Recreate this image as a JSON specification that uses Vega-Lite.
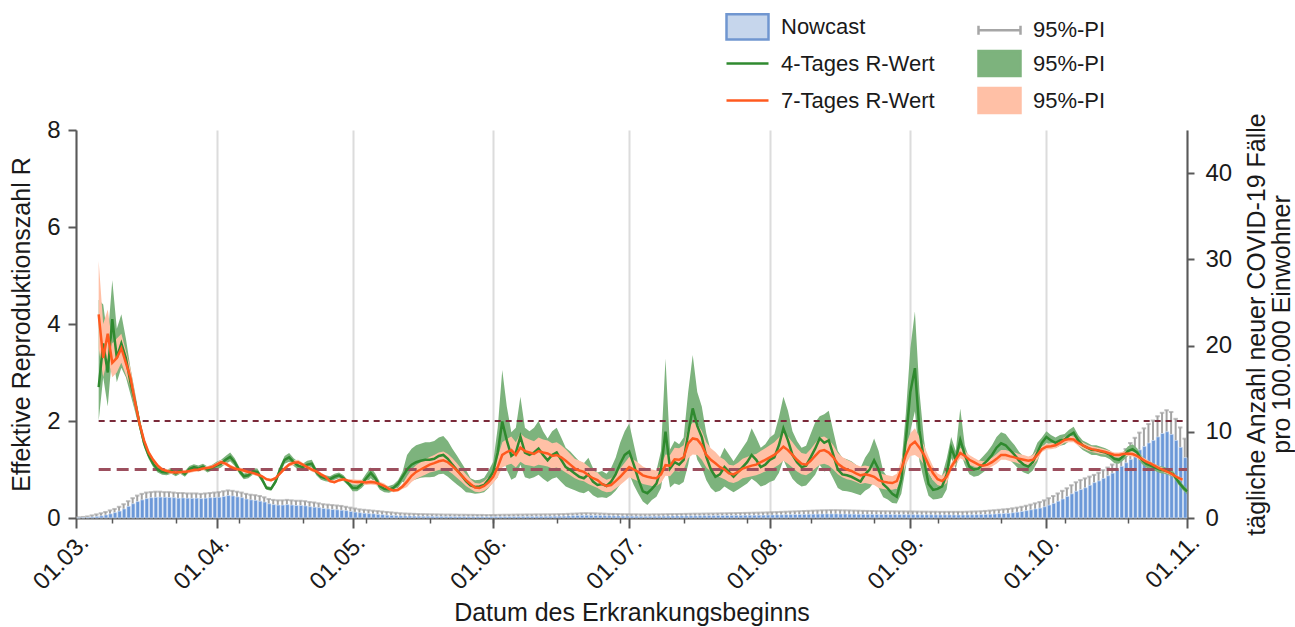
{
"$schema": "https://vega.github.io/schema/vega-lite/v6.json",
"width": 1111,
"height": 388,
"autosize": {"type": "none"},
"padding": {"left": 76, "top": 130, "right": 108, "bottom": 109},
"background": "white",
"config": {
  "font": "Liberation Sans",
  "view": {"stroke": null},
  "axis": {"labelFont": "Liberation Sans", "titleFont": "Liberation Sans", "labelColor": "#1a1a1a", "titleColor": "#1a1a1a", "titleFontWeight": "normal", "labelFontSize": 24, "titleFontSize": 25, "domainColor": "#595959", "tickColor": "#595959", "domainWidth": 2, "tickWidth": 2}
},
"data": {"values": [
{"d":"2020/03/01","n":0.02,"h":0.08},
{"d":"2020/03/02","n":0.04,"h":0.12},
{"d":"2020/03/03","n":0.07,"h":0.18},
{"d":"2020/03/04","n":0.12,"h":0.3},
{"d":"2020/03/05","n":0.18,"h":0.42},
{"d":"2020/03/06","n":0.25,"h":0.55,"g":2.7,"gl":2.0,"gh":4.5,"o":4.2,"ol":3.5,"oh":5.3},
{"d":"2020/03/07","n":0.35,"h":0.7,"g":3.6,"gl":2.9,"gh":4.4,"o":3.3,"ol":2.9,"oh":4.0},
{"d":"2020/03/08","n":0.48,"h":0.88,"g":3.0,"gl":2.3,"gh":3.7,"o":3.8,"ol":3.3,"oh":4.3},
{"d":"2020/03/09","n":0.62,"h":1.05,"g":4.1,"gl":3.4,"gh":4.9,"o":3.2,"ol":2.9,"oh":3.6},
{"d":"2020/03/10","n":0.8,"h":1.3,"g":3.3,"gl":2.8,"gh":3.9,"o":3.3,"ol":3.0,"oh":3.7},
{"d":"2020/03/11","n":1.05,"h":1.6,"g":3.6,"gl":3.1,"gh":4.2,"o":3.5,"ol":3.2,"oh":3.8},
{"d":"2020/03/12","n":1.35,"h":1.95,"g":3.3,"gl":2.9,"gh":3.7,"o":3.2,"ol":2.95,"oh":3.45},
{"d":"2020/03/13","n":1.65,"h":2.3,"g":2.8,"gl":2.55,"gh":3.1,"o":2.9,"ol":2.7,"oh":3.1},
{"d":"2020/03/14","n":1.9,"h":2.6,"g":2.4,"gl":2.2,"gh":2.6,"o":2.4,"ol":2.25,"oh":2.55},
{"d":"2020/03/15","n":2.1,"h":2.8,"g":1.95,"gl":1.83,"gh":2.07,"o":1.95,"ol":1.87,"oh":2.03},
{"d":"2020/03/16","n":2.25,"h":2.95,"g":1.55,"gl":1.46,"gh":1.64,"o":1.6,"ol":1.54,"oh":1.66},
{"d":"2020/03/17","n":2.35,"h":3.0,"g":1.3,"gl":1.22,"gh":1.38,"o":1.35,"ol":1.3,"oh":1.4},
{"d":"2020/03/18","n":2.4,"h":3.05,"g":1.12,"gl":1.05,"gh":1.19,"o":1.2,"ol":1.15,"oh":1.25},
{"d":"2020/03/19","n":2.42,"h":3.05,"g":1.0,"gl":0.94,"gh":1.06,"o":1.08,"ol":1.04,"oh":1.12},
{"d":"2020/03/20","n":2.4,"h":3.0,"g":0.95,"gl":0.89,"gh":1.01,"o":1.0,"ol":0.96,"oh":1.04},
{"d":"2020/03/21","n":2.38,"h":3.0,"g":0.94,"gl":0.88,"gh":1.0,"o":0.97,"ol":0.93,"oh":1.01},
{"d":"2020/03/22","n":2.35,"h":2.95,"g":0.97,"gl":0.91,"gh":1.03,"o":0.95,"ol":0.91,"oh":0.99},
{"d":"2020/03/23","n":2.3,"h":2.9,"g":0.92,"gl":0.86,"gh":0.98,"o":0.94,"ol":0.9,"oh":0.98},
{"d":"2020/03/24","n":2.32,"h":2.9,"g":0.97,"gl":0.91,"gh":1.03,"o":0.95,"ol":0.91,"oh":0.99},
{"d":"2020/03/25","n":2.3,"h":2.85,"g":0.91,"gl":0.85,"gh":0.97,"o":0.95,"ol":0.91,"oh":0.99},
{"d":"2020/03/26","n":2.28,"h":2.85,"g":1.01,"gl":0.95,"gh":1.07,"o":0.97,"ol":0.93,"oh":1.01},
{"d":"2020/03/27","n":2.3,"h":2.85,"g":1.05,"gl":0.99,"gh":1.11,"o":0.99,"ol":0.95,"oh":1.03},
{"d":"2020/03/28","n":2.25,"h":2.8,"g":1.02,"gl":0.96,"gh":1.08,"o":1.0,"ol":0.96,"oh":1.04},
{"d":"2020/03/29","n":2.3,"h":2.85,"g":1.06,"gl":1.0,"gh":1.12,"o":1.02,"ol":0.98,"oh":1.06},
{"d":"2020/03/30","n":2.35,"h":2.9,"g":1.0,"gl":0.94,"gh":1.06,"o":1.03,"ol":0.99,"oh":1.07},
{"d":"2020/03/31","n":2.38,"h":2.95,"g":1.04,"gl":0.98,"gh":1.1,"o":1.05,"ol":1.01,"oh":1.09},
{"d":"2020/04/01","n":2.4,"h":3.0,"g":1.08,"gl":1.0,"gh":1.16,"o":1.1,"ol":1.06,"oh":1.14},
{"d":"2020/04/02","n":2.5,"h":3.1,"g":1.12,"gl":1.04,"gh":1.2,"o":1.15,"ol":1.1,"oh":1.2},
{"d":"2020/04/03","n":2.6,"h":3.2,"g":1.2,"gl":1.12,"gh":1.28,"o":1.12,"ol":1.08,"oh":1.16},
{"d":"2020/04/04","n":2.55,"h":3.15,"g":1.26,"gl":1.17,"gh":1.35,"o":1.06,"ol":1.02,"oh":1.1},
{"d":"2020/04/05","n":2.45,"h":3.05,"g":1.15,"gl":1.07,"gh":1.23,"o":1.02,"ol":0.98,"oh":1.06},
{"d":"2020/04/06","n":2.35,"h":2.95,"g":0.98,"gl":0.91,"gh":1.05,"o":1.0,"ol":0.96,"oh":1.04},
{"d":"2020/04/07","n":2.2,"h":2.8,"g":0.86,"gl":0.8,"gh":0.92,"o":0.98,"ol":0.94,"oh":1.02},
{"d":"2020/04/08","n":2.1,"h":2.7,"g":0.88,"gl":0.82,"gh":0.94,"o":0.95,"ol":0.91,"oh":0.99},
{"d":"2020/04/09","n":2.05,"h":2.65,"g":0.96,"gl":0.89,"gh":1.03,"o":0.93,"ol":0.89,"oh":0.97},
{"d":"2020/04/10","n":1.95,"h":2.55,"g":0.95,"gl":0.88,"gh":1.02,"o":0.9,"ol":0.86,"oh":0.94},
{"d":"2020/04/11","n":1.85,"h":2.4,"g":0.8,"gl":0.74,"gh":0.86,"o":0.86,"ol":0.83,"oh":0.89},
{"d":"2020/04/12","n":1.65,"h":2.2,"g":0.62,"gl":0.58,"gh":0.66,"o":0.8,"ol":0.77,"oh":0.83},
{"d":"2020/04/13","n":1.55,"h":2.1,"g":0.6,"gl":0.56,"gh":0.64,"o":0.78,"ol":0.75,"oh":0.81},
{"d":"2020/04/14","n":1.5,"h":2.05,"g":0.75,"gl":0.7,"gh":0.8,"o":0.82,"ol":0.79,"oh":0.85},
{"d":"2020/04/15","n":1.5,"h":2.05,"g":1.0,"gl":0.93,"gh":1.07,"o":0.92,"ol":0.88,"oh":0.96},
{"d":"2020/04/16","n":1.55,"h":2.1,"g":1.2,"gl":1.12,"gh":1.28,"o":1.02,"ol":0.98,"oh":1.06},
{"d":"2020/04/17","n":1.5,"h":2.05,"g":1.25,"gl":1.16,"gh":1.34,"o":1.1,"ol":1.06,"oh":1.14},
{"d":"2020/04/18","n":1.45,"h":2.0,"g":1.15,"gl":1.07,"gh":1.23,"o":1.14,"ol":1.09,"oh":1.19},
{"d":"2020/04/19","n":1.45,"h":2.0,"g":1.08,"gl":1.0,"gh":1.16,"o":1.15,"ol":1.1,"oh":1.2},
{"d":"2020/04/20","n":1.4,"h":1.95,"g":1.05,"gl":0.98,"gh":1.12,"o":1.1,"ol":1.06,"oh":1.14},
{"d":"2020/04/21","n":1.3,"h":1.85,"g":1.1,"gl":1.02,"gh":1.18,"o":1.05,"ol":1.01,"oh":1.09},
{"d":"2020/04/22","n":1.25,"h":1.8,"g":1.12,"gl":1.04,"gh":1.2,"o":1.0,"ol":0.96,"oh":1.04},
{"d":"2020/04/23","n":1.2,"h":1.7,"g":0.95,"gl":0.88,"gh":1.02,"o":0.96,"ol":0.92,"oh":1.0},
{"d":"2020/04/24","n":1.1,"h":1.6,"g":0.85,"gl":0.79,"gh":0.91,"o":0.9,"ol":0.86,"oh":0.94},
{"d":"2020/04/25","n":1.05,"h":1.55,"g":0.82,"gl":0.76,"gh":0.88,"o":0.85,"ol":0.82,"oh":0.88},
{"d":"2020/04/26","n":1.0,"h":1.5,"g":0.8,"gl":0.74,"gh":0.86,"o":0.76,"ol":0.73,"oh":0.79},
{"d":"2020/04/27","n":0.95,"h":1.45,"g":0.85,"gl":0.79,"gh":0.91,"o":0.74,"ol":0.71,"oh":0.77},
{"d":"2020/04/28","n":0.9,"h":1.4,"g":0.88,"gl":0.82,"gh":0.94,"o":0.78,"ol":0.75,"oh":0.81},
{"d":"2020/04/29","n":0.85,"h":1.3,"g":0.82,"gl":0.76,"gh":0.88,"o":0.8,"ol":0.77,"oh":0.83},
{"d":"2020/04/30","n":0.75,"h":1.2,"g":0.72,"gl":0.67,"gh":0.77,"o":0.77,"ol":0.74,"oh":0.8},
{"d":"2020/05/01","n":0.68,"h":1.1,"g":0.62,"gl":0.55,"gh":0.69,"o":0.75,"ol":0.7,"oh":0.8},
{"d":"2020/05/02","n":0.6,"h":1.0,"g":0.62,"gl":0.55,"gh":0.69,"o":0.74,"ol":0.69,"oh":0.79},
{"d":"2020/05/03","n":0.55,"h":0.95,"g":0.7,"gl":0.62,"gh":0.78,"o":0.74,"ol":0.69,"oh":0.79},
{"d":"2020/05/04","n":0.5,"h":0.9,"g":0.82,"gl":0.72,"gh":0.92,"o":0.73,"ol":0.68,"oh":0.78},
{"d":"2020/05/05","n":0.48,"h":0.85,"g":0.93,"gl":0.82,"gh":1.04,"o":0.74,"ol":0.69,"oh":0.79},
{"d":"2020/05/06","n":0.42,"h":0.8,"g":0.82,"gl":0.72,"gh":0.92,"o":0.73,"ol":0.68,"oh":0.78},
{"d":"2020/05/07","n":0.38,"h":0.75,"g":0.66,"gl":0.58,"gh":0.74,"o":0.7,"ol":0.65,"oh":0.75},
{"d":"2020/05/08","n":0.33,"h":0.7,"g":0.6,"gl":0.53,"gh":0.67,"o":0.66,"ol":0.61,"oh":0.71},
{"d":"2020/05/09","n":0.3,"h":0.65,"g":0.59,"gl":0.52,"gh":0.66,"o":0.6,"ol":0.56,"oh":0.64},
{"d":"2020/05/10","n":0.27,"h":0.6,"g":0.62,"gl":0.55,"gh":0.69,"o":0.57,"ol":0.53,"oh":0.61},
{"d":"2020/05/11","n":0.25,"h":0.55,"g":0.7,"gl":0.62,"gh":0.78,"o":0.58,"ol":0.54,"oh":0.62},
{"d":"2020/05/12","n":0.24,"h":0.52,"g":0.85,"gl":0.75,"gh":0.95,"o":0.65,"ol":0.6,"oh":0.7},
{"d":"2020/05/13","n":0.23,"h":0.5,"g":1.0,"gl":0.7,"gh":1.3,"o":0.75,"ol":0.64,"oh":0.86},
{"d":"2020/05/14","n":0.22,"h":0.48,"g":1.1,"gl":0.77,"gh":1.43,"o":0.87,"ol":0.74,"oh":1.0},
{"d":"2020/05/15","n":0.21,"h":0.46,"g":1.15,"gl":0.8,"gh":1.5,"o":0.95,"ol":0.81,"oh":1.09},
{"d":"2020/05/16","n":0.2,"h":0.45,"g":1.18,"gl":0.83,"gh":1.53,"o":1.0,"ol":0.85,"oh":1.15},
{"d":"2020/05/17","n":0.2,"h":0.44,"g":1.2,"gl":0.84,"gh":1.56,"o":1.05,"ol":0.89,"oh":1.21},
{"d":"2020/05/18","n":0.19,"h":0.43,"g":1.2,"gl":0.84,"gh":1.56,"o":1.1,"ol":0.94,"oh":1.26},
{"d":"2020/05/19","n":0.18,"h":0.42,"g":1.22,"gl":0.85,"gh":1.59,"o":1.13,"ol":0.96,"oh":1.3},
{"d":"2020/05/20","n":0.18,"h":0.41,"g":1.28,"gl":0.9,"gh":1.66,"o":1.17,"ol":0.99,"oh":1.35},
{"d":"2020/05/21","n":0.17,"h":0.4,"g":1.3,"gl":0.91,"gh":1.69,"o":1.19,"ol":1.01,"oh":1.37},
{"d":"2020/05/22","n":0.17,"h":0.4,"g":1.22,"gl":0.85,"gh":1.59,"o":1.15,"ol":0.98,"oh":1.32},
{"d":"2020/05/23","n":0.16,"h":0.39,"g":1.1,"gl":0.77,"gh":1.43,"o":1.07,"ol":0.91,"oh":1.23},
{"d":"2020/05/24","n":0.16,"h":0.38,"g":0.99,"gl":0.69,"gh":1.29,"o":0.98,"ol":0.83,"oh":1.13},
{"d":"2020/05/25","n":0.16,"h":0.38,"g":0.88,"gl":0.62,"gh":1.14,"o":0.88,"ol":0.75,"oh":1.01},
{"d":"2020/05/26","n":0.15,"h":0.37,"g":0.76,"gl":0.53,"gh":0.99,"o":0.78,"ol":0.66,"oh":0.9},
{"d":"2020/05/27","n":0.15,"h":0.37,"g":0.67,"gl":0.52,"gh":0.82,"o":0.7,"ol":0.6,"oh":0.8},
{"d":"2020/05/28","n":0.15,"h":0.36,"g":0.64,"gl":0.5,"gh":0.78,"o":0.63,"ol":0.54,"oh":0.72},
{"d":"2020/05/29","n":0.14,"h":0.36,"g":0.65,"gl":0.51,"gh":0.79,"o":0.62,"ol":0.53,"oh":0.71},
{"d":"2020/05/30","n":0.14,"h":0.35,"g":0.68,"gl":0.53,"gh":0.83,"o":0.66,"ol":0.56,"oh":0.76},
{"d":"2020/05/31","n":0.14,"h":0.35,"g":0.8,"gl":0.62,"gh":0.98,"o":0.74,"ol":0.63,"oh":0.85},
{"d":"2020/06/01","n":0.15,"h":0.36,"g":0.95,"gl":0.74,"gh":1.16,"o":0.85,"ol":0.72,"oh":0.98},
{"d":"2020/06/02","n":0.15,"h":0.37,"g":1.35,"gl":0.84,"gh":1.86,"o":1.05,"ol":0.84,"oh":1.26},
{"d":"2020/06/03","n":0.16,"h":0.38,"g":1.99,"gl":1.3,"gh":3.05,"o":1.3,"ol":1.04,"oh":1.56},
{"d":"2020/06/04","n":0.16,"h":0.38,"g":1.6,"gl":0.99,"gh":2.3,"o":1.36,"ol":1.09,"oh":1.63},
{"d":"2020/06/05","n":0.17,"h":0.39,"g":1.28,"gl":0.79,"gh":1.77,"o":1.4,"ol":1.12,"oh":1.68},
{"d":"2020/06/06","n":0.17,"h":0.4,"g":1.35,"gl":0.84,"gh":1.86,"o":1.3,"ol":1.04,"oh":1.56},
{"d":"2020/06/07","n":0.18,"h":0.4,"g":1.68,"gl":1.1,"gh":2.5,"o":1.45,"ol":1.16,"oh":1.74},
{"d":"2020/06/08","n":0.18,"h":0.41,"g":1.35,"gl":0.84,"gh":1.86,"o":1.38,"ol":1.1,"oh":1.66},
{"d":"2020/06/09","n":0.18,"h":0.41,"g":1.3,"gl":0.81,"gh":1.79,"o":1.35,"ol":1.08,"oh":1.62},
{"d":"2020/06/10","n":0.19,"h":0.42,"g":1.35,"gl":0.84,"gh":1.86,"o":1.32,"ol":1.06,"oh":1.58},
{"d":"2020/06/11","n":0.19,"h":0.42,"g":1.43,"gl":0.89,"gh":2.0,"o":1.38,"ol":1.1,"oh":1.66},
{"d":"2020/06/12","n":0.2,"h":0.43,"g":1.3,"gl":0.81,"gh":1.79,"o":1.35,"ol":1.08,"oh":1.62},
{"d":"2020/06/13","n":0.2,"h":0.43,"g":1.19,"gl":0.74,"gh":1.64,"o":1.33,"ol":1.06,"oh":1.6},
{"d":"2020/06/14","n":0.21,"h":0.44,"g":1.3,"gl":0.81,"gh":1.79,"o":1.28,"ol":1.02,"oh":1.54},
{"d":"2020/06/15","n":0.21,"h":0.45,"g":1.35,"gl":0.84,"gh":1.86,"o":1.3,"ol":1.04,"oh":1.56},
{"d":"2020/06/16","n":0.22,"h":0.46,"g":1.2,"gl":0.74,"gh":1.66,"o":1.25,"ol":1.0,"oh":1.5},
{"d":"2020/06/17","n":0.24,"h":0.48,"g":1.05,"gl":0.65,"gh":1.45,"o":1.18,"ol":0.94,"oh":1.42},
{"d":"2020/06/18","n":0.26,"h":0.5,"g":0.99,"gl":0.61,"gh":1.37,"o":1.1,"ol":0.88,"oh":1.32},
{"d":"2020/06/19","n":0.28,"h":0.52,"g":0.92,"gl":0.57,"gh":1.27,"o":1.02,"ol":0.82,"oh":1.22},
{"d":"2020/06/20","n":0.3,"h":0.55,"g":0.85,"gl":0.53,"gh":1.17,"o":0.98,"ol":0.78,"oh":1.18},
{"d":"2020/06/21","n":0.31,"h":0.56,"g":0.82,"gl":0.51,"gh":1.13,"o":0.95,"ol":0.76,"oh":1.14},
{"d":"2020/06/22","n":0.3,"h":0.55,"g":0.9,"gl":0.56,"gh":1.24,"o":0.88,"ol":0.7,"oh":1.06},
{"d":"2020/06/23","n":0.29,"h":0.54,"g":0.75,"gl":0.47,"gh":1.03,"o":0.82,"ol":0.66,"oh":0.98},
{"d":"2020/06/24","n":0.28,"h":0.52,"g":0.68,"gl":0.42,"gh":0.94,"o":0.78,"ol":0.62,"oh":0.94},
{"d":"2020/06/25","n":0.26,"h":0.5,"g":0.7,"gl":0.43,"gh":0.97,"o":0.7,"ol":0.56,"oh":0.84},
{"d":"2020/06/26","n":0.25,"h":0.48,"g":0.66,"gl":0.41,"gh":0.91,"o":0.66,"ol":0.53,"oh":0.79},
{"d":"2020/06/27","n":0.24,"h":0.47,"g":0.75,"gl":0.47,"gh":1.03,"o":0.68,"ol":0.54,"oh":0.82},
{"d":"2020/06/28","n":0.23,"h":0.46,"g":0.9,"gl":0.56,"gh":1.24,"o":0.76,"ol":0.61,"oh":0.91},
{"d":"2020/06/29","n":0.22,"h":0.45,"g":1.12,"gl":0.69,"gh":1.55,"o":0.85,"ol":0.68,"oh":1.02},
{"d":"2020/06/30","n":0.22,"h":0.44,"g":1.3,"gl":0.81,"gh":1.79,"o":0.95,"ol":0.76,"oh":1.14},
{"d":"2020/07/01","n":0.21,"h":0.43,"g":1.37,"gl":0.9,"gh":1.95,"o":1.05,"ol":0.84,"oh":1.26},
{"d":"2020/07/02","n":0.21,"h":0.43,"g":1.1,"gl":0.68,"gh":1.52,"o":1.0,"ol":0.8,"oh":1.2},
{"d":"2020/07/03","n":0.2,"h":0.42,"g":0.8,"gl":0.5,"gh":1.1,"o":0.95,"ol":0.76,"oh":1.14},
{"d":"2020/07/04","n":0.2,"h":0.42,"g":0.55,"gl":0.34,"gh":0.76,"o":0.88,"ol":0.7,"oh":1.06},
{"d":"2020/07/05","n":0.2,"h":0.42,"g":0.51,"gl":0.27,"gh":0.7,"o":0.85,"ol":0.68,"oh":1.02},
{"d":"2020/07/06","n":0.21,"h":0.43,"g":0.6,"gl":0.37,"gh":0.83,"o":0.83,"ol":0.66,"oh":1.0},
{"d":"2020/07/07","n":0.21,"h":0.43,"g":0.71,"gl":0.44,"gh":0.98,"o":0.82,"ol":0.66,"oh":0.98},
{"d":"2020/07/08","n":0.22,"h":0.44,"g":1.0,"gl":0.62,"gh":1.38,"o":0.9,"ol":0.72,"oh":1.08},
{"d":"2020/07/09","n":0.22,"h":0.45,"g":1.78,"gl":1.2,"gh":3.29,"o":1.09,"ol":0.87,"oh":1.31},
{"d":"2020/07/10","n":0.23,"h":0.46,"g":1.02,"gl":0.63,"gh":1.41,"o":1.08,"ol":0.86,"oh":1.3},
{"d":"2020/07/11","n":0.23,"h":0.46,"g":1.15,"gl":0.71,"gh":1.59,"o":1.21,"ol":0.97,"oh":1.45},
{"d":"2020/07/12","n":0.24,"h":0.47,"g":1.1,"gl":0.68,"gh":1.52,"o":1.2,"ol":0.96,"oh":1.44},
{"d":"2020/07/13","n":0.24,"h":0.48,"g":1.2,"gl":0.74,"gh":1.66,"o":1.25,"ol":1.0,"oh":1.5},
{"d":"2020/07/14","n":0.25,"h":0.49,"g":1.74,"gl":1.1,"gh":2.6,"o":1.54,"ol":1.23,"oh":1.85},
{"d":"2020/07/15","n":0.25,"h":0.5,"g":2.26,"gl":1.6,"gh":3.36,"o":1.64,"ol":1.31,"oh":1.97},
{"d":"2020/07/16","n":0.26,"h":0.5,"g":1.9,"gl":1.2,"gh":2.6,"o":1.62,"ol":1.3,"oh":1.94},
{"d":"2020/07/17","n":0.26,"h":0.51,"g":1.67,"gl":1.04,"gh":2.3,"o":1.5,"ol":1.2,"oh":1.8},
{"d":"2020/07/18","n":0.27,"h":0.52,"g":1.26,"gl":0.78,"gh":1.74,"o":1.3,"ol":1.04,"oh":1.56},
{"d":"2020/07/19","n":0.27,"h":0.52,"g":1.0,"gl":0.62,"gh":1.38,"o":1.2,"ol":0.96,"oh":1.44},
{"d":"2020/07/20","n":0.28,"h":0.53,"g":0.85,"gl":0.53,"gh":1.17,"o":1.13,"ol":0.9,"oh":1.36},
{"d":"2020/07/21","n":0.28,"h":0.54,"g":0.9,"gl":0.56,"gh":1.24,"o":1.05,"ol":0.84,"oh":1.26},
{"d":"2020/07/22","n":0.29,"h":0.55,"g":1.05,"gl":0.65,"gh":1.45,"o":1.0,"ol":0.8,"oh":1.2},
{"d":"2020/07/23","n":0.29,"h":0.56,"g":0.95,"gl":0.59,"gh":1.31,"o":0.92,"ol":0.74,"oh":1.1},
{"d":"2020/07/24","n":0.3,"h":0.57,"g":0.85,"gl":0.53,"gh":1.17,"o":0.9,"ol":0.72,"oh":1.08},
{"d":"2020/07/25","n":0.3,"h":0.58,"g":0.95,"gl":0.59,"gh":1.31,"o":0.95,"ol":0.76,"oh":1.14},
{"d":"2020/07/26","n":0.31,"h":0.59,"g":1.05,"gl":0.65,"gh":1.45,"o":1.02,"ol":0.82,"oh":1.22},
{"d":"2020/07/27","n":0.31,"h":0.6,"g":1.15,"gl":0.71,"gh":1.59,"o":1.05,"ol":0.84,"oh":1.26},
{"d":"2020/07/28","n":0.32,"h":0.61,"g":1.3,"gl":0.81,"gh":1.85,"o":1.08,"ol":0.86,"oh":1.3},
{"d":"2020/07/29","n":0.32,"h":0.62,"g":1.2,"gl":0.74,"gh":1.66,"o":1.1,"ol":0.88,"oh":1.32},
{"d":"2020/07/30","n":0.33,"h":0.63,"g":1.05,"gl":0.65,"gh":1.45,"o":1.15,"ol":0.92,"oh":1.38},
{"d":"2020/07/31","n":0.34,"h":0.65,"g":1.1,"gl":0.68,"gh":1.52,"o":1.2,"ol":0.96,"oh":1.44},
{"d":"2020/08/01","n":0.35,"h":0.67,"g":1.2,"gl":0.74,"gh":1.66,"o":1.25,"ol":1.0,"oh":1.5},
{"d":"2020/08/02","n":0.36,"h":0.69,"g":1.25,"gl":0.78,"gh":1.73,"o":1.3,"ol":1.04,"oh":1.56},
{"d":"2020/08/03","n":0.37,"h":0.71,"g":1.5,"gl":0.93,"gh":2.07,"o":1.38,"ol":1.1,"oh":1.66},
{"d":"2020/08/04","n":0.38,"h":0.73,"g":1.85,"gl":1.2,"gh":2.5,"o":1.47,"ol":1.18,"oh":1.76},
{"d":"2020/08/05","n":0.39,"h":0.75,"g":1.6,"gl":0.99,"gh":2.21,"o":1.4,"ol":1.12,"oh":1.68},
{"d":"2020/08/06","n":0.4,"h":0.77,"g":1.3,"gl":0.81,"gh":1.79,"o":1.3,"ol":1.04,"oh":1.56},
{"d":"2020/08/07","n":0.41,"h":0.79,"g":1.15,"gl":0.71,"gh":1.59,"o":1.2,"ol":0.96,"oh":1.44},
{"d":"2020/08/08","n":0.42,"h":0.81,"g":1.05,"gl":0.65,"gh":1.45,"o":1.12,"ol":0.9,"oh":1.34},
{"d":"2020/08/09","n":0.43,"h":0.83,"g":1.08,"gl":0.67,"gh":1.49,"o":1.1,"ol":0.88,"oh":1.32},
{"d":"2020/08/10","n":0.44,"h":0.85,"g":1.25,"gl":0.78,"gh":1.73,"o":1.18,"ol":0.94,"oh":1.42},
{"d":"2020/08/11","n":0.45,"h":0.87,"g":1.43,"gl":0.89,"gh":1.97,"o":1.28,"ol":1.02,"oh":1.54},
{"d":"2020/08/12","n":0.46,"h":0.89,"g":1.64,"gl":1.1,"gh":2.1,"o":1.38,"ol":1.1,"oh":1.66},
{"d":"2020/08/13","n":0.47,"h":0.9,"g":1.55,"gl":0.96,"gh":2.14,"o":1.4,"ol":1.12,"oh":1.68},
{"d":"2020/08/14","n":0.47,"h":0.91,"g":1.6,"gl":0.99,"gh":2.21,"o":1.35,"ol":1.08,"oh":1.62},
{"d":"2020/08/15","n":0.47,"h":0.91,"g":1.3,"gl":0.81,"gh":1.79,"o":1.25,"ol":1.0,"oh":1.5},
{"d":"2020/08/16","n":0.46,"h":0.9,"g":1.0,"gl":0.62,"gh":1.38,"o":1.12,"ol":0.9,"oh":1.34},
{"d":"2020/08/17","n":0.46,"h":0.89,"g":0.9,"gl":0.56,"gh":1.24,"o":1.05,"ol":0.84,"oh":1.26},
{"d":"2020/08/18","n":0.45,"h":0.88,"g":0.88,"gl":0.55,"gh":1.21,"o":1.0,"ol":0.8,"oh":1.2},
{"d":"2020/08/19","n":0.44,"h":0.86,"g":0.85,"gl":0.53,"gh":1.17,"o":0.97,"ol":0.78,"oh":1.16},
{"d":"2020/08/20","n":0.43,"h":0.85,"g":0.8,"gl":0.5,"gh":1.1,"o":0.92,"ol":0.74,"oh":1.1},
{"d":"2020/08/21","n":0.42,"h":0.83,"g":0.75,"gl":0.47,"gh":1.03,"o":0.88,"ol":0.7,"oh":1.06},
{"d":"2020/08/22","n":0.42,"h":0.82,"g":0.9,"gl":0.56,"gh":1.24,"o":0.9,"ol":0.72,"oh":1.08},
{"d":"2020/08/23","n":0.41,"h":0.81,"g":1.0,"gl":0.62,"gh":1.38,"o":0.88,"ol":0.7,"oh":1.06},
{"d":"2020/08/24","n":0.41,"h":0.8,"g":1.19,"gl":0.74,"gh":1.64,"o":0.85,"ol":0.68,"oh":1.02},
{"d":"2020/08/25","n":0.4,"h":0.79,"g":1.0,"gl":0.62,"gh":1.38,"o":0.78,"ol":0.62,"oh":0.94},
{"d":"2020/08/26","n":0.4,"h":0.79,"g":0.7,"gl":0.43,"gh":0.97,"o":0.75,"ol":0.6,"oh":0.9},
{"d":"2020/08/27","n":0.4,"h":0.78,"g":0.61,"gl":0.38,"gh":0.84,"o":0.73,"ol":0.58,"oh":0.88},
{"d":"2020/08/28","n":0.39,"h":0.78,"g":0.5,"gl":0.31,"gh":0.69,"o":0.72,"ol":0.58,"oh":0.86},
{"d":"2020/08/29","n":0.39,"h":0.77,"g":0.44,"gl":0.3,"gh":0.6,"o":0.76,"ol":0.61,"oh":0.91},
{"d":"2020/08/30","n":0.39,"h":0.77,"g":0.8,"gl":0.5,"gh":1.1,"o":1.0,"ol":0.8,"oh":1.2},
{"d":"2020/08/31","n":0.38,"h":0.76,"g":1.6,"gl":1.04,"gh":2.16,"o":1.3,"ol":1.1,"oh":1.5},
{"d":"2020/09/01","n":0.38,"h":0.76,"g":2.6,"gl":1.8,"gh":3.5,"o":1.5,"ol":1.28,"oh":1.75},
{"d":"2020/09/02","n":0.38,"h":0.75,"g":3.09,"gl":2.2,"gh":4.26,"o":1.57,"ol":1.3,"oh":1.85},
{"d":"2020/09/03","n":0.37,"h":0.74,"g":1.8,"gl":1.17,"gh":2.6,"o":1.45,"ol":1.23,"oh":1.67},
{"d":"2020/09/04","n":0.37,"h":0.74,"g":1.2,"gl":0.78,"gh":1.62,"o":1.3,"ol":1.1,"oh":1.5},
{"d":"2020/09/05","n":0.37,"h":0.73,"g":0.7,"gl":0.46,"gh":0.95,"o":1.1,"ol":0.94,"oh":1.27},
{"d":"2020/09/06","n":0.36,"h":0.73,"g":0.58,"gl":0.38,"gh":0.78,"o":0.92,"ol":0.78,"oh":1.06},
{"d":"2020/09/07","n":0.36,"h":0.72,"g":0.6,"gl":0.39,"gh":0.81,"o":0.8,"ol":0.68,"oh":0.92},
{"d":"2020/09/08","n":0.36,"h":0.72,"g":0.65,"gl":0.42,"gh":0.88,"o":0.76,"ol":0.65,"oh":0.87},
{"d":"2020/09/09","n":0.36,"h":0.72,"g":0.9,"gl":0.59,"gh":1.22,"o":0.85,"ol":0.72,"oh":0.98},
{"d":"2020/09/10","n":0.35,"h":0.72,"g":1.45,"gl":1.23,"gh":1.67,"o":1.05,"ol":0.97,"oh":1.13},
{"d":"2020/09/11","n":0.35,"h":0.72,"g":1.2,"gl":1.02,"gh":1.38,"o":1.2,"ol":1.1,"oh":1.3},
{"d":"2020/09/12","n":0.35,"h":0.72,"g":1.61,"gl":1.37,"gh":2.26,"o":1.34,"ol":1.23,"oh":1.45},
{"d":"2020/09/13","n":0.36,"h":0.73,"g":1.3,"gl":1.1,"gh":1.5,"o":1.28,"ol":1.18,"oh":1.38},
{"d":"2020/09/14","n":0.37,"h":0.75,"g":1.06,"gl":0.9,"gh":1.22,"o":1.2,"ol":1.1,"oh":1.3},
{"d":"2020/09/15","n":0.38,"h":0.76,"g":1.0,"gl":0.85,"gh":1.15,"o":1.15,"ol":1.06,"oh":1.24},
{"d":"2020/09/16","n":0.4,"h":0.78,"g":1.02,"gl":0.87,"gh":1.17,"o":1.1,"ol":1.01,"oh":1.19},
{"d":"2020/09/17","n":0.42,"h":0.82,"g":1.1,"gl":0.94,"gh":1.27,"o":1.08,"ol":0.99,"oh":1.17},
{"d":"2020/09/18","n":0.44,"h":0.86,"g":1.19,"gl":1.01,"gh":1.37,"o":1.1,"ol":1.01,"oh":1.19},
{"d":"2020/09/19","n":0.46,"h":0.9,"g":1.3,"gl":1.1,"gh":1.5,"o":1.15,"ol":1.06,"oh":1.24},
{"d":"2020/09/20","n":0.5,"h":0.95,"g":1.45,"gl":1.23,"gh":1.67,"o":1.22,"ol":1.12,"oh":1.32},
{"d":"2020/09/21","n":0.52,"h":1.0,"g":1.54,"gl":1.31,"gh":1.77,"o":1.3,"ol":1.2,"oh":1.4},
{"d":"2020/09/22","n":0.55,"h":1.05,"g":1.5,"gl":1.28,"gh":1.73,"o":1.3,"ol":1.2,"oh":1.4},
{"d":"2020/09/23","n":0.6,"h":1.12,"g":1.4,"gl":1.19,"gh":1.61,"o":1.27,"ol":1.17,"oh":1.37},
{"d":"2020/09/24","n":0.68,"h":1.2,"g":1.3,"gl":1.1,"gh":1.5,"o":1.25,"ol":1.15,"oh":1.35},
{"d":"2020/09/25","n":0.75,"h":1.3,"g":1.18,"gl":1.0,"gh":1.36,"o":1.22,"ol":1.12,"oh":1.32},
{"d":"2020/09/26","n":0.85,"h":1.42,"g":1.1,"gl":0.94,"gh":1.27,"o":1.2,"ol":1.1,"oh":1.3},
{"d":"2020/09/27","n":0.95,"h":1.55,"g":1.06,"gl":0.9,"gh":1.22,"o":1.18,"ol":1.09,"oh":1.27},
{"d":"2020/09/28","n":1.05,"h":1.7,"g":1.15,"gl":0.98,"gh":1.32,"o":1.2,"ol":1.1,"oh":1.3},
{"d":"2020/09/29","n":1.15,"h":1.85,"g":1.35,"gl":1.15,"gh":1.55,"o":1.3,"ol":1.2,"oh":1.4},
{"d":"2020/09/30","n":1.3,"h":2.05,"g":1.55,"gl":1.44,"gh":1.66,"o":1.42,"ol":1.36,"oh":1.48},
{"d":"2020/10/01","n":1.5,"h":2.3,"g":1.67,"gl":1.55,"gh":1.79,"o":1.47,"ol":1.41,"oh":1.53},
{"d":"2020/10/02","n":1.7,"h":2.55,"g":1.6,"gl":1.49,"gh":1.71,"o":1.48,"ol":1.42,"oh":1.54},
{"d":"2020/10/03","n":1.95,"h":2.85,"g":1.55,"gl":1.44,"gh":1.66,"o":1.5,"ol":1.44,"oh":1.56},
{"d":"2020/10/04","n":2.2,"h":3.15,"g":1.6,"gl":1.49,"gh":1.71,"o":1.55,"ol":1.49,"oh":1.61},
{"d":"2020/10/05","n":2.5,"h":3.45,"g":1.62,"gl":1.51,"gh":1.73,"o":1.61,"ol":1.55,"oh":1.67},
{"d":"2020/10/06","n":2.8,"h":3.8,"g":1.7,"gl":1.58,"gh":1.82,"o":1.63,"ol":1.56,"oh":1.7},
{"d":"2020/10/07","n":3.1,"h":4.15,"g":1.76,"gl":1.64,"gh":1.88,"o":1.62,"ol":1.56,"oh":1.68},
{"d":"2020/10/08","n":3.3,"h":4.4,"g":1.6,"gl":1.49,"gh":1.71,"o":1.55,"ol":1.49,"oh":1.61},
{"d":"2020/10/09","n":3.5,"h":4.6,"g":1.5,"gl":1.4,"gh":1.6,"o":1.5,"ol":1.44,"oh":1.56},
{"d":"2020/10/10","n":3.8,"h":4.8,"g":1.45,"gl":1.35,"gh":1.55,"o":1.45,"ol":1.39,"oh":1.51},
{"d":"2020/10/11","n":4.1,"h":5.0,"g":1.4,"gl":1.3,"gh":1.5,"o":1.42,"ol":1.36,"oh":1.48},
{"d":"2020/10/12","n":4.3,"h":5.25,"g":1.4,"gl":1.3,"gh":1.5,"o":1.4,"ol":1.34,"oh":1.46},
{"d":"2020/10/13","n":4.6,"h":5.55,"g":1.37,"gl":1.27,"gh":1.47,"o":1.38,"ol":1.32,"oh":1.44},
{"d":"2020/10/14","n":4.9,"h":5.85,"g":1.35,"gl":1.26,"gh":1.44,"o":1.36,"ol":1.31,"oh":1.41},
{"d":"2020/10/15","n":5.2,"h":6.2,"g":1.3,"gl":1.21,"gh":1.39,"o":1.33,"ol":1.28,"oh":1.38},
{"d":"2020/10/16","n":5.6,"h":6.7,"g":1.22,"gl":1.13,"gh":1.31,"o":1.3,"ol":1.25,"oh":1.35},
{"d":"2020/10/17","n":6.0,"h":7.3,"g":1.2,"gl":1.12,"gh":1.28,"o":1.3,"ol":1.25,"oh":1.35},
{"d":"2020/10/18","n":6.4,"h":8.0,"g":1.28,"gl":1.19,"gh":1.37,"o":1.32,"ol":1.27,"oh":1.37},
{"d":"2020/10/19","n":6.8,"h":8.7,"g":1.38,"gl":1.28,"gh":1.48,"o":1.33,"ol":1.28,"oh":1.38},
{"d":"2020/10/20","n":7.4,"h":9.3,"g":1.42,"gl":1.32,"gh":1.52,"o":1.32,"ol":1.27,"oh":1.37},
{"d":"2020/10/21","n":7.9,"h":9.9,"g":1.35,"gl":1.26,"gh":1.44,"o":1.28,"ol":1.23,"oh":1.33},
{"d":"2020/10/22","n":8.3,"h":10.4,"g":1.2,"gl":1.12,"gh":1.28,"o":1.22,"ol":1.17,"oh":1.27},
{"d":"2020/10/23","n":8.7,"h":10.9,"g":1.12,"gl":1.04,"gh":1.2,"o":1.16,"ol":1.11,"oh":1.21},
{"d":"2020/10/24","n":9.0,"h":11.3,"g":1.08,"gl":1.0,"gh":1.16,"o":1.12,"ol":1.08,"oh":1.16},
{"d":"2020/10/25","n":9.4,"h":11.8,"g":1.04,"gl":0.97,"gh":1.11,"o":1.07,"ol":1.03,"oh":1.11},
{"d":"2020/10/26","n":9.8,"h":12.2,"g":1.0,"gl":0.93,"gh":1.07,"o":1.02,"ol":0.98,"oh":1.06},
{"d":"2020/10/27","n":10.0,"h":12.5,"g":0.98,"gl":0.91,"gh":1.05,"o":0.98,"ol":0.94,"oh":1.02},
{"d":"2020/10/28","n":9.7,"h":12.3,"g":0.95,"gl":0.88,"gh":1.02,"o":0.94,"ol":0.9,"oh":0.98},
{"d":"2020/10/29","n":9.0,"h":11.5,"g":0.9,"gl":0.84,"gh":0.96,"o":0.89,"ol":0.85,"oh":0.93},
{"d":"2020/10/30","n":8.2,"h":10.5,"g":0.76,"gl":0.7,"gh":0.82,"o":0.83,"ol":0.8,"oh":0.86},
{"d":"2020/10/31","n":7.0,"h":9.2,"g":0.64,"gl":0.58,"gh":0.7,"o":0.79,"ol":0.76,"oh":0.82},
{"d":"2020/11/01","g":0.55,"gl":0.49,"gh":0.61}
]},
"layer": [
  {
    "layer": [
      {
        "mark": {"type": "rule", "color": "#a3a3a3", "strokeWidth": 2},
        "encoding": {
          "x": {"field": "d", "type": "temporal", "timeUnit": "yearmonthdate", "bandPosition": 0.5,
                "scale": {"domain": [{"year": 2020, "month": 3, "date": 1}, {"year": 2020, "month": 11, "date": 1}], "nice": false},
                "axis": {"orient": "bottom", "title": null, "labels": false, "domain": false, "grid": false, "tickSize": 5, "tickWidth": 1.5,
                         "values": [{"year":2020,"month":3,"date":9},{"year":2020,"month":3,"date":16},{"year":2020,"month":3,"date":23},{"year":2020,"month":3,"date":30},{"year":2020,"month":4,"date":6},{"year":2020,"month":4,"date":13},{"year":2020,"month":4,"date":20},{"year":2020,"month":4,"date":27},{"year":2020,"month":5,"date":4},{"year":2020,"month":5,"date":11},{"year":2020,"month":5,"date":18},{"year":2020,"month":5,"date":25},{"year":2020,"month":6,"date":1},{"year":2020,"month":6,"date":8},{"year":2020,"month":6,"date":15},{"year":2020,"month":6,"date":22},{"year":2020,"month":6,"date":29},{"year":2020,"month":7,"date":6},{"year":2020,"month":7,"date":13},{"year":2020,"month":7,"date":20},{"year":2020,"month":7,"date":27},{"year":2020,"month":8,"date":3},{"year":2020,"month":8,"date":10},{"year":2020,"month":8,"date":17},{"year":2020,"month":8,"date":24},{"year":2020,"month":8,"date":31},{"year":2020,"month":9,"date":7},{"year":2020,"month":9,"date":14},{"year":2020,"month":9,"date":21},{"year":2020,"month":9,"date":28},{"year":2020,"month":10,"date":5},{"year":2020,"month":10,"date":12},{"year":2020,"month":10,"date":19},{"year":2020,"month":10,"date":26}]}},
          "y": {"field": "n", "type": "quantitative", "scale": {"domain": [0, 45], "nice": false},
                "axis": {"orient": "right", "values": [0, 10, 20, 30, 40], "tickSize": 7, "labelPadding": 11, "grid": false,
                         "title": ["tägliche Anzahl neuer COVID-19 Fälle", "pro 100.000 Einwohner"], "titleAngle": 270, "titleBaseline": "top", "titleAlign": "center", "titleX": 57, "titleY": 194, "titleLineHeight": 25}},
          "y2": {"field": "h"}
        }
      },
      {
        "mark": {"type": "tick", "color": "#a3a3a3", "orient": "horizontal", "size": 4.5, "thickness": 2},
        "encoding": {
          "x": {"field": "d", "type": "temporal", "timeUnit": "yearmonthdate", "bandPosition": 0.5},
          "y": {"field": "h", "type": "quantitative"}
        }
      },
      {
        "mark": {"type": "bar", "fill": "#6b98d8", "stroke": "#d3e0f3", "strokeWidth": 0.6},
        "encoding": {
          "x": {"field": "d", "type": "temporal", "timeUnit": "yearmonthdate"},
          "y": {"field": "n", "type": "quantitative"}
        }
      }
    ]
  },
  {
    "layer": [
      {
        "mark": {"type": "area", "color": "#7db37d", "opacity": 1},
        "encoding": {
          "x": {"field": "d", "type": "temporal",
                "scale": {"domain": [{"year": 2020, "month": 3, "date": 1}, {"year": 2020, "month": 11, "date": 1}], "nice": false},
                "axis": {"orient": "bottom", "title": "Datum des Erkrankungsbeginns", "titlePadding": 6, "format": "%d.%m.", "formatType": "time", "labelAngle": -45, "tickSize": 10, "grid": true, "gridColor": "#dcdcdc", "gridWidth": 2, "labelPadding": 2,
                         "values": [{"year":2020,"month":3,"date":1},{"year":2020,"month":4,"date":1},{"year":2020,"month":5,"date":1},{"year":2020,"month":6,"date":1},{"year":2020,"month":7,"date":1},{"year":2020,"month":8,"date":1},{"year":2020,"month":9,"date":1},{"year":2020,"month":10,"date":1},{"year":2020,"month":11,"date":1}]}},
          "y": {"field": "gl", "type": "quantitative", "scale": {"domain": [0, 8], "nice": false},
                "axis": {"orient": "left", "values": [0, 2, 4, 6, 8], "tickSize": 8, "labelPadding": 8, "grid": false, "title": "Effektive Reproduktionszahl R", "titlePadding": 12}},
          "y2": {"field": "gh"}
        }
      },
      {
        "mark": {"type": "area", "color": "#ffc0a6", "opacity": 1},
        "encoding": {
          "x": {"field": "d", "type": "temporal"},
          "y": {"field": "ol", "type": "quantitative"},
          "y2": {"field": "oh"}
        }
      },
      {
        "data": {"values": [{"r": 2, "a": "2020/03/06", "b": "2020/11/01"}]},
        "mark": {"type": "rule", "color": "#7a2a3a", "strokeWidth": 2, "strokeDash": [6, 5]},
        "encoding": {
          "x": {"field": "a", "type": "temporal"},
          "x2": {"field": "b"},
          "y": {"field": "r", "type": "quantitative"}
        }
      },
      {
        "data": {"values": [{"r": 1, "a": "2020/03/06", "b": "2020/11/01"}]},
        "mark": {"type": "rule", "color": "#9c4f5e", "strokeWidth": 3, "strokeDash": [12, 6]},
        "encoding": {
          "x": {"field": "a", "type": "temporal"},
          "x2": {"field": "b"},
          "y": {"field": "r", "type": "quantitative"}
        }
      },
      {
        "mark": {"type": "line", "color": "#2f8a2f", "strokeWidth": 2.5},
        "encoding": {
          "x": {"field": "d", "type": "temporal"},
          "y": {"field": "g", "type": "quantitative"}
        }
      },
      {
        "mark": {"type": "line", "color": "#ff5a1f", "strokeWidth": 2.5},
        "encoding": {
          "x": {"field": "d", "type": "temporal"},
          "y": {"field": "o", "type": "quantitative"}
        }
      },
      {
        "data": {"values": [{"k": "Nowcast"}]},
        "transform": [{"filter": "false"}],
        "mark": {"type": "point", "filled": true, "opacity": 1},
        "encoding": {
          "shape": {"field": "k", "type": "nominal",
                    "scale": {"domain": ["Nowcast", "4-Tages R-Wert", "7-Tages R-Wert", "95%-PI", "95%-PI ", "95%-PI  "],
                              "range": ["M-1.4,-0.84H1.4V0.84H-1.4Z", "M-1.4,0H1.4", "M-1.4,0H1.4", "M-1.4,0H1.4M-1.4,-0.3V0.3M1.4,-0.3V0.3", "M-1.4,-0.84H1.4V0.84H-1.4Z", "M-1.4,-0.84H1.4V0.84H-1.4Z"]},
                    "legend": {"title": null, "orient": "none", "legendX": 655, "legendY": -120, "columns": 2, "symbolSize": 900, "symbolStrokeWidth": 2.5, "labelFontSize": 22, "labelFont": "Liberation Sans", "labelColor": "#1a1a1a", "labelLimit": 400, "labelOffset": 17, "rowPadding": 0, "columnPadding": 38, "padding": 0, "symbolOffset": 0}},
          "fill": {"field": "k", "type": "nominal",
                   "scale": {"domain": ["Nowcast", "4-Tages R-Wert", "7-Tages R-Wert", "95%-PI", "95%-PI ", "95%-PI  "],
                             "range": ["#c6d6ec", "transparent", "transparent", "transparent", "#7db37d", "#ffc0a6"]},
                   "legend": {"title": null, "orient": "none", "legendX": 655, "legendY": -120, "columns": 2, "symbolSize": 900, "symbolStrokeWidth": 2.5, "labelFontSize": 22, "labelFont": "Liberation Sans", "labelColor": "#1a1a1a", "labelLimit": 400, "labelOffset": 17, "rowPadding": 0, "columnPadding": 38, "padding": 0, "symbolOffset": 0}},
          "stroke": {"field": "k", "type": "nominal",
                     "scale": {"domain": ["Nowcast", "4-Tages R-Wert", "7-Tages R-Wert", "95%-PI", "95%-PI ", "95%-PI  "],
                               "range": ["#7096d0", "#2f8a2f", "#ff5a1f", "#a6a6a6", "#7db37d", "#ffc0a6"]},
                     "legend": {"title": null, "orient": "none", "legendX": 655, "legendY": -120, "columns": 2, "symbolSize": 900, "symbolStrokeWidth": 2.5, "labelFontSize": 22, "labelFont": "Liberation Sans", "labelColor": "#1a1a1a", "labelLimit": 400, "labelOffset": 17, "rowPadding": 0, "columnPadding": 38, "padding": 0, "symbolOffset": 0}}
        }
      }
    ]
  }
],
"resolve": {"scale": {"y": "independent"}, "axis": {"x": "independent"}}
}
